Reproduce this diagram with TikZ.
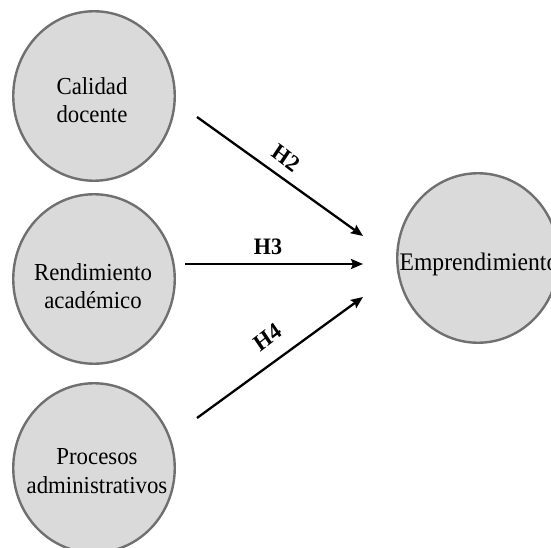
\documentclass[tikz,border=0pt]{standalone}
\usepackage{fontspec}
\setmainfont{Liberation Serif}
\usetikzlibrary{shapes.geometric,arrows.meta}
\definecolor{bubblefill}{RGB}{218,218,218}
\definecolor{bubbleline}{RGB}{112,112,112}
\begin{document}
\begin{tikzpicture}[x=1pt,y=-1pt,
  construct/.style={ellipse,draw=bubbleline,fill=bubblefill,line width=2.4pt,
    minimum width=161.5pt,minimum height=169.5pt,inner sep=0pt},
  caption/.style={align=center,inner sep=0pt,yscale=1.07,
    font=\fontsize{22.8}{26.6}\selectfont},
  hyp/.style={-{Stealth[length=12pt,width=10pt,inset=2pt]},line width=2.3pt},
  hyplabel/.style={inner sep=0pt,yscale=1.07,font=\fontsize{22}{24}\selectfont\bfseries}]
  \useasboundingbox (0,0) rectangle (551,548);
  \clip (0,0) rectangle (551,548);
  \fill[white] (0,0) rectangle (551,548);

  % constructs
  \node[construct] (cal) at (94,96) {};
  \node[construct] (ren) at (94,279) {};
  \node[construct] (pro) at (94,468) {};
  \node[construct] (emp) at (478,258) {};

  \node[caption] (calt) at (92,100) {Calidad\\docente};
  \node[caption] (rent) at (93,286) {Rendimiento\\académico};
  \node[caption] (prot) at (97,471) {Procesos\\administrativos};
  \node[caption,font=\fontsize{23.6}{26.6}\selectfont] (empt) at (479,264) {Emprendimiento};

  % hypothesised paths
  \coordinate (s2) at (197,117);
  \coordinate (e2) at (363,236);
  \coordinate (s3) at (185,264);
  \coordinate (e3) at (363,264);
  \coordinate (s4) at (197,418);
  \coordinate (e4) at (363,297);
  \draw[hyp] (s2) -- (e2);
  \draw[hyp] (s3) -- (e3);
  \draw[hyp] (s4) -- (e4);

  \node[hyplabel,rotate=-35.6] (h2) at (286,158) {H2};
  \node[hyplabel] (h3) at (268,247) {H3};
  \node[hyplabel,rotate=36] (h4) at (268,337) {H4};
\end{tikzpicture}
\end{document}
